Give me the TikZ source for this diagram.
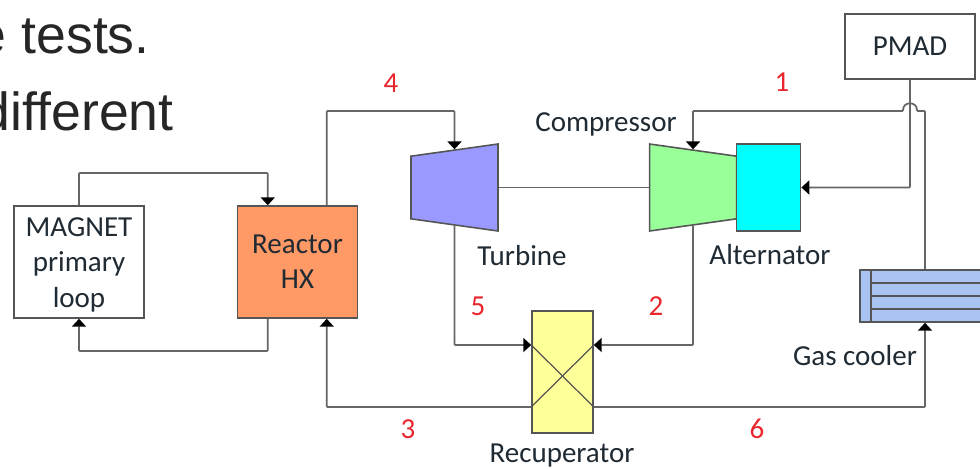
\documentclass[tikz,border=0pt]{standalone}
\usepackage{fontspec}
\setmainfont{Carlito}
\newfontfamily\slidefont{Liberation Sans}
\usetikzlibrary{shapes.geometric, arrows.meta, positioning, calc}

\definecolor{linegray}{HTML}{666666}
\definecolor{edgegray}{HTML}{555555}
\definecolor{labelink}{HTML}{1F2A33}
\definecolor{statered}{HTML}{E8262D}
\definecolor{reactorfill}{HTML}{FF9966}
\definecolor{turbinefill}{HTML}{9999FF}
\definecolor{compfill}{HTML}{99FF99}
\definecolor{altfill}{HTML}{00FFFF}
\definecolor{recupfill}{HTML}{FFFF99}
\definecolor{coolerfill}{HTML}{A9C4F2}

\begin{document}
\begin{tikzpicture}[
        x=0.02cm, y=-0.02cm,
        unit/.style={
            rectangle,
            draw=edgegray,
            line width=0.9pt,
            inner sep=0pt,
            align=center,
            text=labelink,
            font=\fontsize{16.5}{20}\selectfont
        },
        whitebox/.style={unit, fill=white, minimum width=2.6cm},
        reactorbox/.style={unit, fill=reactorfill, minimum width=2.4cm, minimum height=2.24cm},
        machine/.style={
            trapezium,
            draw=edgegray,
            line width=0.9pt,
            inner sep=2pt,
            trapezium stretches=true,
            trapezium left angle=79,
            trapezium right angle=79,
            minimum width=1.74cm,
            minimum height=1.74cm
        },
        flow/.style={draw=linegray, line width=1pt, rounded corners=0.5pt},
        flowtip/.style={flow, -{Triangle[black, length=4.5pt, width=8pt]}},
        caption/.style={text=labelink, font=\fontsize{16.5}{20}\selectfont},
        state/.style={text=statered, font=\fontsize{16.5}{20}\selectfont},
        slideline/.style={anchor=base east, inner sep=0pt, text=black!85, font=\slidefont\fontsize{30.5}{36}\selectfont}
    ]

    \clip[use as bounding box] (0,0) rectangle (980,468);

    % Slide text behind the figure
    \node[slideline] (slideone) at (150,53) {e tests.};
    \node[slideline] (slidetwo) at (174,130) {different};

    % Main boxes
    \node[whitebox, minimum height=2.24cm] (magnet) at (79,262) {\rule{0pt}{14pt}MAGNET\\primary\\loop};
    \node[reactorbox, right=1.84cm of magnet] (reactor) {Reactor\\HX};
    \node[whitebox, minimum height=1.3cm] (pmad) at (910,46.5) {PMAD};

    % Turbine, shaft and alternator
    \node[machine, shape border rotate=90, fill=turbinefill] (turbine) at (454.5,187.5) {};
    \node[machine, shape border rotate=270, fill=compfill, right=3.0cm of turbine] (compressor) {};
    \node[unit, fill=altfill, minimum width=1.28cm, minimum height=1.74cm, right=-0.03cm of compressor] (alternator) {};

    % Recuperator and gas cooler
    \node[unit, fill=recupfill, minimum width=1.22cm, minimum height=2.44cm] (recuperator) at (562.5,372) {};
    \node[unit, fill=coolerfill, minimum width=2.6cm, minimum height=1.04cm] (cooler) at (925,296) {};

    \coordinate (recupleftup) at (recuperator.west |- 0,345);
    \coordinate (recupleftdown) at (recuperator.west |- 0,407);
    \coordinate (recuprightup) at (recuperator.east |- 0,345);
    \coordinate (recuprightdown) at (recuperator.east |- 0,407);
    \draw[edgegray, line width=0.7pt] (recupleftup) -- (recuprightdown);
    \draw[edgegray, line width=0.7pt] (recupleftdown) -- (recuprightup);

    % Gas cooler tubes
    \draw[edgegray, line width=0.7pt] (871,270) -- (871,322);
    \foreach \tubey in {283,296,309} {
        \draw[edgegray, line width=0.9pt] (871,\tubey) -- (980,\tubey);
    }

    % Loop between MAGNET and the reactor
    \coordinate (magnetin) at ($(reactor.north west)+(0.62cm,0)$);
    \coordinate (magnetout) at ($(reactor.south west)+(0.62cm,0)$);
    \draw[flowtip] (magnet.north) -- (magnet.north |- 0,173) -| (magnetin);
    \draw[flowtip] (magnetout) |- (magnet.south |- 0,351) -- (magnet.south);

    % Cycle
    \coordinate (reactortop) at ($(reactor.north west)+(1.8cm,0)$);
    \coordinate (reactorbot) at ($(reactor.south west)+(1.8cm,0)$);
    \coordinate (hopright) at (917,111);
    \coordinate (hopleft) at (903,111);
    \draw[flowtip] (reactortop) |- (turbine.north |- hopleft) -- (turbine.north);
    \draw[flowtip] (turbine.south) |- (recupleftup);
    \draw[flowtip] (compressor.south) |- (recuprightup);
    \draw[flowtip] (recupleftdown) -| (reactorbot);
    \draw[flowtip] (recuprightdown) -| (cooler.south);
    \draw[flow] (cooler.north) |- (hopright) .. controls +(0,-10) and +(0,-10) .. (hopleft) -- (compressor.north |- hopleft);
    \draw[flowtip] (compressor.north |- hopleft) -- (compressor.north);

    % Shaft and power line
    \draw[flow] (turbine.east) -- (compressor.west);
    \draw[flowtip] (pmad.south) |- (alternator.east);

    % Labels
    \node[caption] (compressorlabel) at (606,124) {Compressor};
    \node[caption] (turbinelabel) at (522,256) {Turbine};
    \node[caption] (alternatorlabel) at (770,255) {Alternator};
    \node[caption] (coolerlabel) at (855,356) {Gas cooler};
    \node[caption] (recuperatorlabel) at (562,456) {Recuperator};

    \node[state] (stateone) at (782,82) {1};
    \node[state] (statetwo) at (656,306) {2};
    \node[state] (statethree) at (408,429) {3};
    \node[state] (statefour) at (391,83) {4};
    \node[state] (statefive) at (478,306) {5};
    \node[state] (statesix) at (757,429) {6};

\end{tikzpicture}
\end{document}
